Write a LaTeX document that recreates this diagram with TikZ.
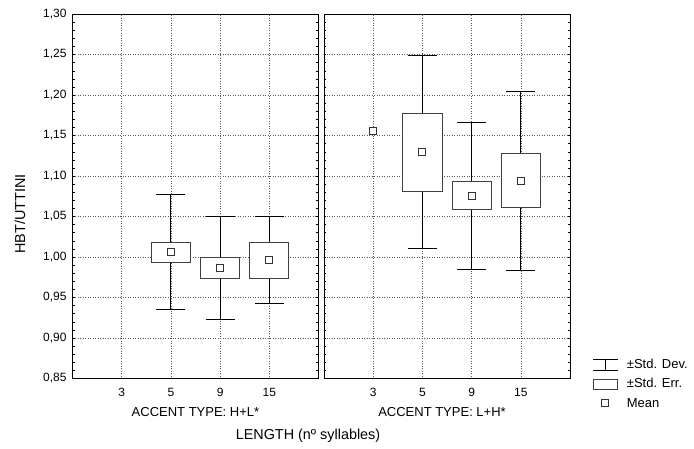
\documentclass[tikz,border=0pt]{standalone}
\usepackage{fontspec}
\setmainfont{Liberation Sans}

\tikzset{
  grid line/.style={draw=black!65, dotted, line width=0.5pt},
  frame line/.style={draw=black, line width=0.9pt},
  whisker/.style={draw=black, line width=0.9pt},
  err box/.style={draw=black!75, line width=0.9pt, fill=white},
  mean mark/.style={draw=black!80, line width=0.9pt, fill=white, minimum size=7pt, inner sep=0pt},
  tick label/.style={font=\fontsize{12}{14}\selectfont, inner sep=0pt},
  type label/.style={font=\fontsize{13}{15}\selectfont, inner sep=0pt},
  axis title/.style={font=\fontsize{14.4}{17}\selectfont, inner sep=0pt},
}

% x, -sd, -se, mean, +se, +sd
\newcommand{\stdbox}[7]{%
  \draw[whisker] (#2,#3) -- (#2,#7);
  \draw[whisker] (#2-14.5,#3) -- (#2+14.5,#3);
  \draw[whisker] (#2-14.5,#7) -- (#2+14.5,#7);
  \draw[err box] (#2-19.6,#4) rectangle (#2+19.6,#6);
  \node[mean mark] (#1) at (#2,#5) {};
}

\begin{document}
\begin{tikzpicture}[x=1pt,y=-1pt]
\useasboundingbox (0,0) rectangle (694,448);

\begin{scope}[y=810pt,yshift=-1067pt]
  % Grid and frames
  \foreach \px in {72.5,324}{
    \foreach \v in {0.90,0.95,1.00,1.05,1.10,1.15,1.20,1.25}
      \draw[grid line] (\px,\v) -- (\px+246,\v);
    \foreach \k in {1,...,4}
      \draw[grid line] ({\px+49.2*\k},0.85) -- ({\px+49.2*\k},1.30);
    \foreach \v in {0.86,0.87,...,1.295}{
      \draw[black, line width=0.6pt] (\px,\v) -- (\px+2.2,\v);
      \draw[black, line width=0.6pt] (\px+246,\v) -- (\px+243.8,\v);
    }
    \draw[frame line] (\px,0.85) rectangle (\px+246,1.30);
  }

  % Y axis labels
  \foreach \v/\t in {0.85/{0,85},0.90/{0,90},0.95/{0,95},1.00/{1,00},1.05/{1,05},
                     1.10/{1,10},1.15/{1,15},1.20/{1,20},1.25/{1,25},1.30/{1,30}}
    \node[tick label, anchor=east] at (66.7,\v) {\t};

  % Boxes: H+L*
  \stdbox{hlA}{170.9}{0.9350}{0.9938}{1.0062}{1.0180}{1.0778}
  \stdbox{hlB}{220.1}{0.9226}{0.9737}{0.9864}{0.9991}{1.0502}
  \stdbox{hlC}{269.3}{0.9428}{0.9741}{0.9963}{1.0177}{1.0498}

  % Boxes: L+H*
  \node[mean mark] (lh0) at (373.2,1.156) {};
  \stdbox{lhA}{422.4}{1.0103}{1.0811}{1.1296}{1.1778}{1.2490}
  \stdbox{lhB}{471.6}{0.9852}{1.0584}{1.0757}{1.0930}{1.1663}
  \stdbox{lhC}{520.8}{0.9831}{1.0609}{1.0942}{1.1275}{1.2049}
\end{scope}

% X axis labels
\foreach \px in {72.5,324}
  \foreach \k/\t in {1/3,2/5,3/9,4/15}
    \node[tick label] at ({\px+49.2*\k},392) {\t};
\node[type label] (typeA) at (195.5,411.7) {ACCENT TYPE: H+L*};
\node[type label] (typeB) at (442,411.7) {ACCENT TYPE: L+H*};
\node[axis title] (xtitle) at (308,436) {LENGTH (nº syllables)};
\node[axis title, rotate=90] (ytitle) at (20,214) {HBT/UTTINI};

% Legend
\coordinate (sdL) at (593.3,359.3);
\coordinate (sdR) at (617.5,359.3);
\draw[whisker] (sdL) -- (sdR);
\draw[whisker] (593.3,370.7) -- (617.5,370.7);
\draw[whisker] (605.4,359.3) -- (605.4,370.7);
\draw[err box] (593.3,379.3) rectangle (617.5,389.6);
\node[mean mark] (meankey) at (605.4,402.7) {};
\node[type label, anchor=west] (sdtext) at (626.7,364) {±Std. Dev.};
\node[type label, anchor=west] (setext) at (626.7,383.3) {±Std. Err.};
\node[type label, anchor=west] (meantext) at (626.7,402.7) {Mean};
\end{tikzpicture}
\end{document}
